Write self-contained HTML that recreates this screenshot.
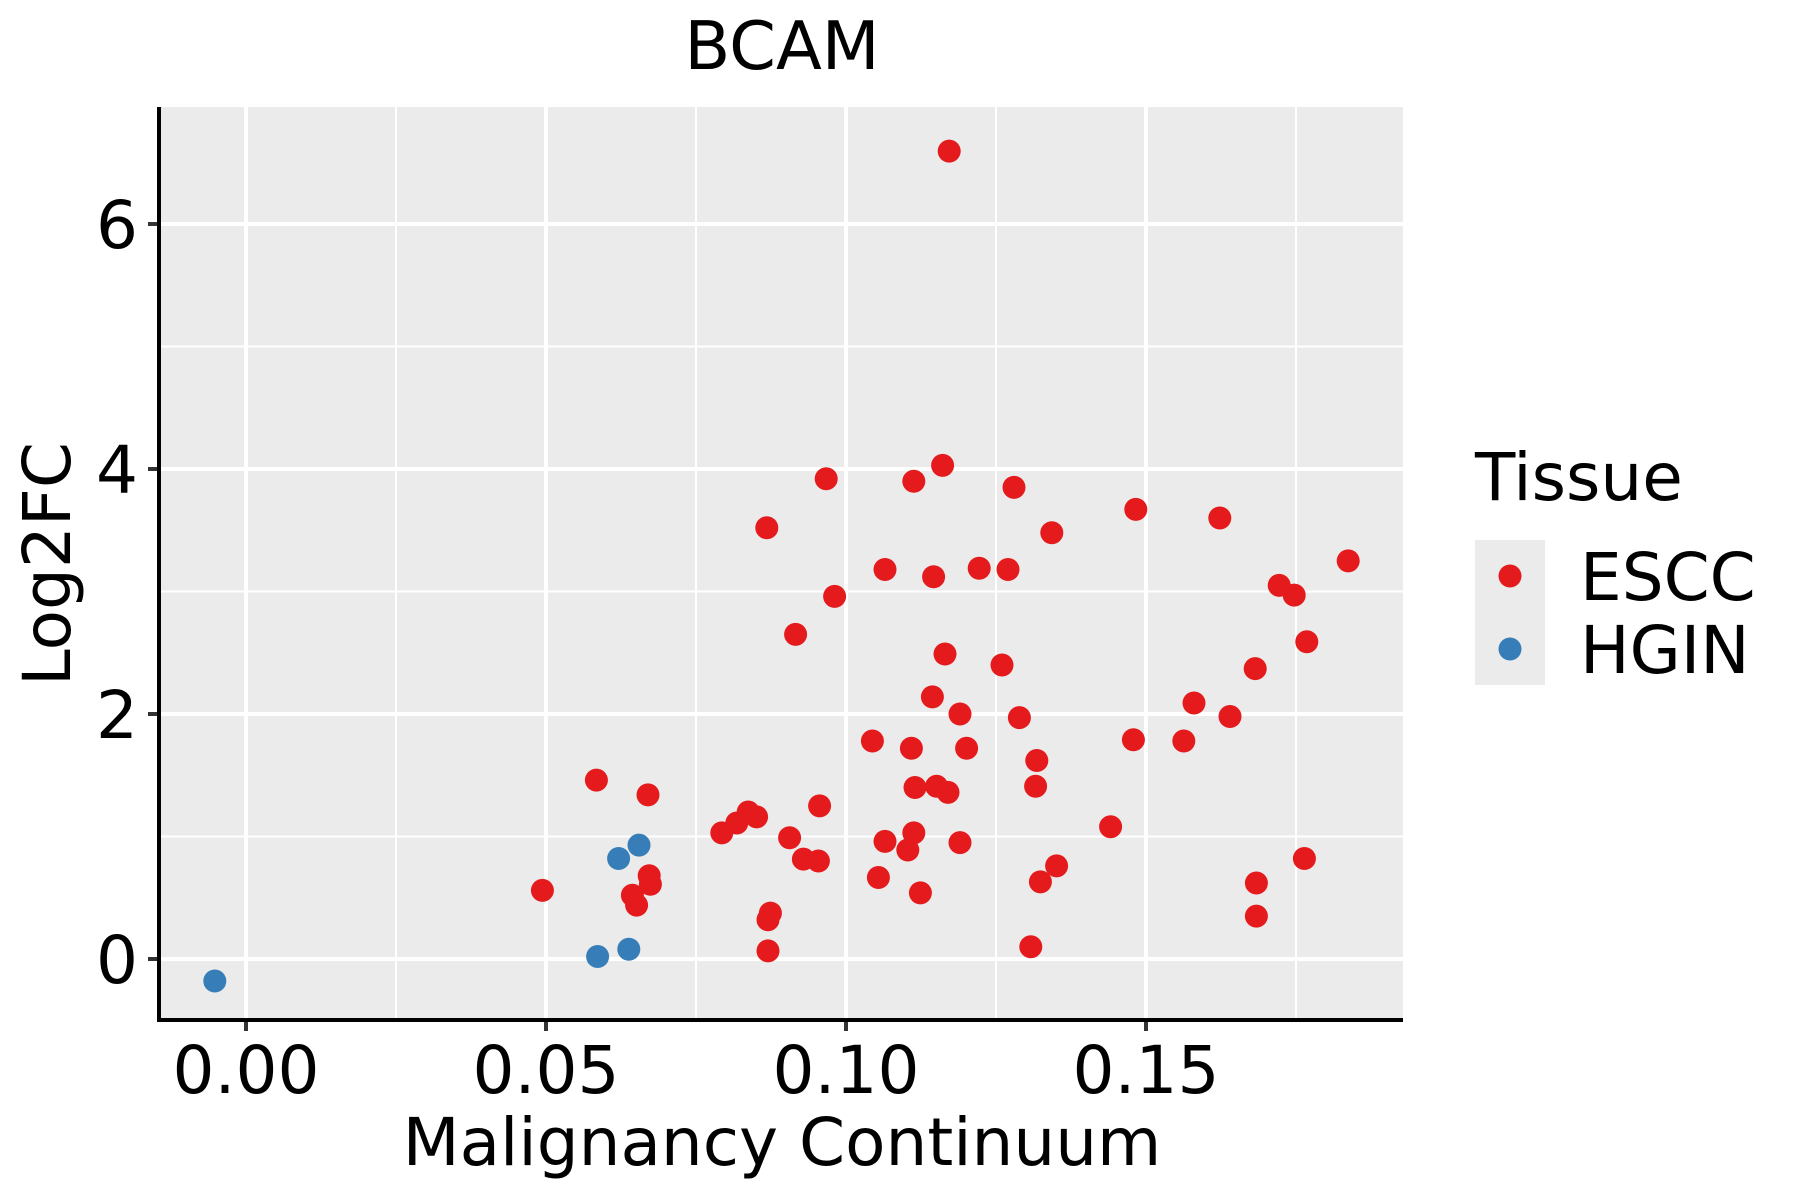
<!DOCTYPE html>
<html><head><meta charset="utf-8"><style>html,body{margin:0;padding:0;background:#fff}svg{display:block}text{font-family:"DejaVu Sans","Liberation Sans",sans-serif;fill:#000}</style></head>
<body>
<svg id="chart" width="1800" height="1200" viewBox="0 0 1800 1200" xmlns="http://www.w3.org/2000/svg">
<text x="782" y="69" font-size="67" text-anchor="middle">BCAM</text>
<rect x="159" y="107" width="1244" height="913" fill="#ebebeb"/>
<g id="grid"></g>
<g id="pts"></g>
<g id="axes"></g>
<text x="782" y="1165" font-size="66" text-anchor="middle">Malignancy Continuum</text>
<text transform="translate(70,564) rotate(-90)" font-size="66" text-anchor="middle">Log2FC</text>
<g>
<text x="1475" y="500" font-size="66">Tissue</text>
<rect x="1475" y="540" width="70" height="145" fill="#ebebeb"/>
<circle cx="1510" cy="576" r="11.5" fill="#e41a1c"/>
<circle cx="1510" cy="649" r="11.5" fill="#377eb8"/>
<text x="1580" y="600" font-size="66">ESCC</text>
<text x="1580" y="673" font-size="66">HGIN</text>
</g>
</svg>
<script>
const esccX=[0.1172,0.0967,0.1113,0.1161,0.128,0.0868,0.1343,0.1483,0.1623,0.1065,0.1146,0.1222,0.127,0.0981,0.1837,0.1722,0.1747,0.0916,0.1165,0.126,0.1768,0.1682,0.1144,0.119,0.1289,0.158,0.164,0.1044,0.1109,0.1201,0.1318,0.1479,0.1563,0.0584,0.067,0.1115,0.1151,0.117,0.1316,0.0837,0.0851,0.0818,0.0793,0.0956,0.0906,0.1113,0.1065,0.1103,0.119,0.1441,0.0929,0.0954,0.1351,0.1764,0.0494,0.0672,0.0674,0.0644,0.0651,0.1054,0.1124,0.1324,0.1684,0.1684,0.0874,0.087,0.087,0.1308];
const esccY=[6.595,3.92,3.90,4.03,3.85,3.52,3.48,3.67,3.60,3.18,3.12,3.19,3.18,2.96,3.25,3.05,2.97,2.65,2.49,2.40,2.59,2.37,2.14,2.00,1.97,2.09,1.98,1.78,1.72,1.72,1.62,1.79,1.78,1.46,1.34,1.40,1.41,1.36,1.41,1.20,1.16,1.11,1.03,1.25,0.99,1.03,0.96,0.89,0.95,1.08,0.815,0.80,0.76,0.82,0.56,0.68,0.61,0.52,0.44,0.665,0.54,0.63,0.62,0.35,0.375,0.32,0.066,0.10];
const hginX=[-0.0052,0.0621,0.0655,0.0586,0.0638];
const hginY=[-0.18,0.82,0.93,0.02,0.08];
const xTicks=[0,0.05,0.1,0.15];
const xTickLabels=["0.00","0.05","0.10","0.15"];
const yTicks=[0,2,4,6];
const yTickLabels=["0","2","4","6"];
const xMinor=[0.025,0.075,0.125,0.175];
const yMinor=[1,3,5];
const NS="http://www.w3.org/2000/svg";
const sx=v=>246+v*6000, sy=v=>959-v*122.5;
const L=159,R=1403,T=107,B=1020;
function mk(tag,attrs,parent){const e=document.createElementNS(NS,tag);for(const k in attrs)e.setAttribute(k,attrs[k]);parent.appendChild(e);return e;}
const grid=document.getElementById('grid'),pts=document.getElementById('pts'),axes=document.getElementById('axes');
xMinor.forEach(v=>{const e=mk('line',{x1:sx(v),x2:sx(v),y1:T,y2:B,stroke:'#fff','stroke-width':2},grid);

});
yMinor.forEach(v=>{const e=mk('line',{x1:L,x2:R,y1:sy(v),y2:sy(v),stroke:'#fff','stroke-width':2},grid);

});
xTicks.forEach((v,i)=>{const e=mk('line',{x1:sx(v),x2:sx(v),y1:T,y2:B,stroke:'#fff','stroke-width':4},grid);


const t=mk('line',{x1:sx(v),x2:sx(v),y1:B,y2:B+11,stroke:'#333','stroke-width':4},axes);


const l=mk('text',{x:sx(v),y:1093,'font-size':66,'text-anchor':'middle'},axes);l.textContent=xTickLabels[i];

});
yTicks.forEach((v,i)=>{const e=mk('line',{x1:L,x2:R,y1:sy(v),y2:sy(v),stroke:'#fff','stroke-width':4},grid);


const t=mk('line',{x1:L-11,x2:L,y1:sy(v),y2:sy(v),stroke:'#333','stroke-width':4},axes);


const l=mk('text',{x:138,y:sy(v)+24,'font-size':66,'text-anchor':'end'},axes);l.textContent=yTickLabels[i];

});
const ax=mk('path',{d:`M${L},${T} V${B} H${R}`,fill:'none',stroke:'#000','stroke-width':4},axes);


esccX.forEach((v,i)=>{const c=mk('circle',{cx:sx(v),cy:sy(esccY[i]),r:11.5,fill:'#e41a1c'},pts);

});
hginX.forEach((v,i)=>{const c=mk('circle',{cx:sx(v),cy:sy(hginY[i]),r:11.5,fill:'#377eb8'},pts);

});
</script>
</body></html>
